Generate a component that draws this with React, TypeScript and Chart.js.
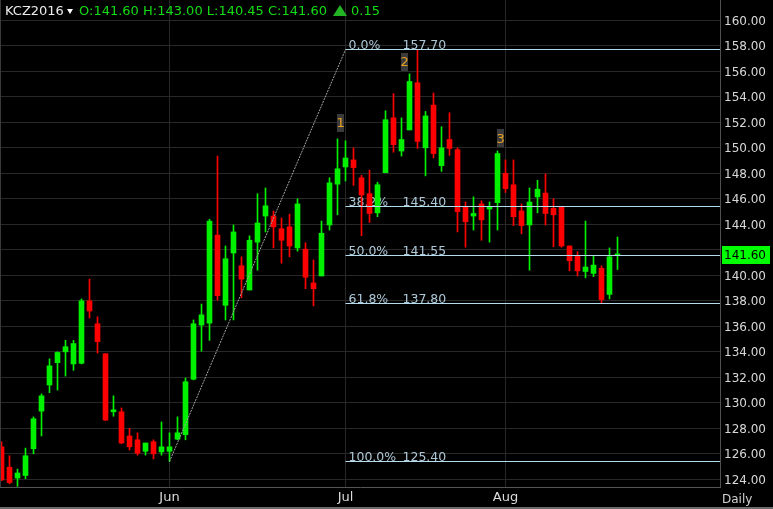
import { useEffect, useRef } from "react";
import { Chart, registerables } from "chart.js";

Chart.register(...registerables);

// trading days shown (mm/dd, 2016)
const dates = [
  "05/02", "05/03", "05/04", "05/05", "05/06", "05/09", "05/10", "05/11", "05/12", "05/13",
  "05/16", "05/17", "05/18", "05/19", "05/20", "05/23", "05/24", "05/25", "05/26", "05/27",
  "05/31",
  "06/01", "06/02", "06/03", "06/06", "06/07", "06/08", "06/09", "06/10", "06/13", "06/14",
  "06/15", "06/16", "06/17", "06/20", "06/21", "06/22", "06/23", "06/24", "06/27", "06/28",
  "06/29", "06/30",
  "07/01", "07/05", "07/06", "07/07", "07/08", "07/11", "07/12", "07/13", "07/14", "07/15",
  "07/18", "07/19", "07/20", "07/21", "07/22", "07/25", "07/26", "07/27", "07/28", "07/29",
  "08/01", "08/02", "08/03", "08/04", "08/05", "08/08", "08/09", "08/10", "08/11", "08/12",
  "08/15", "08/16", "08/17", "08/18", "08/19",
];

const opens = [
  126.55, 124.95, 124.1, 124.3, 126.4, 129.35, 131.4, 133.15, 134.0, 133.05,
  133.1, 138.0, 136.2, 133.85, 129.3, 129.3, 127.4, 127.1, 126.2, 126.95,
  126.15, 126.2, 127.15, 127.5, 131.85, 136.1, 136.25, 143.15, 137.65, 141.75,
  140.75, 138.85, 142.6, 144.65, 144.65, 143.65, 143.8, 142.15, 142.05, 139.4,
  139.95, 143.95, 147.15, 148.5, 149.05, 147.65, 146.4, 144.9, 148.05, 152.35,
  149.75, 151.4, 155.1, 150.0, 153.35, 148.6, 150.65, 149.85, 145.4, 144.65,
  145.6, 145.2, 145.7, 148.0, 147.1, 145.05, 143.95, 146.15, 146.45, 145.25,
  145.35, 142.3, 141.55, 140.3, 140.15, 140.55, 138.5, 141.6,
];
const highs = [
  126.95, 125.85, 124.8, 126.45, 128.9, 130.7, 133.45, 134.0, 134.9, 134.9,
  138.15, 139.7, 136.75, 133.85, 130.55, 129.6, 128.0, 127.65, 126.85, 127.1,
  128.5, 127.65, 128.9, 131.95, 136.5, 137.75, 144.4, 149.35, 142.3, 143.95,
  141.45, 143.1, 146.4, 146.85, 145.05, 144.5, 144.8, 146.0, 142.55, 141.2,
  144.25, 147.65, 150.7, 150.55, 150.0, 147.85, 148.25, 147.3, 152.9, 154.25,
  152.35, 155.8, 157.7, 152.85, 154.3, 151.65, 152.75, 150.0, 145.75, 146.15,
  145.85, 145.75, 149.75, 149.05, 149.05, 145.6, 146.85, 147.45, 147.95, 146.0,
  145.35, 142.3, 141.85, 144.25, 141.55, 140.75, 142.15, 143.0,
];
const lows = [
  123.9, 123.65, 123.45, 124.05, 126.0, 127.4, 130.8, 131.0, 132.1, 132.55,
  133.05, 136.65, 133.9, 128.6, 128.95, 126.8, 126.3, 125.9, 125.9, 125.6,
  125.9, 125.4, 127.1, 127.1, 131.8, 134.05, 134.9, 138.05, 136.5, 136.5,
  138.25, 138.85, 140.4, 143.4, 142.15, 140.95, 141.45, 141.9, 138.95, 137.6,
  139.95, 143.55, 144.75, 147.4, 147.05, 143.1, 144.15, 144.6, 148.05, 149.65,
  149.35, 151.4, 149.95, 147.8, 149.2, 148.15, 149.4, 143.4, 142.2, 143.55,
  142.75, 142.6, 143.55, 146.5, 143.9, 143.25, 140.4, 144.9, 143.95, 142.25,
  142.2, 140.35, 139.95, 139.8, 139.9, 137.85, 138.15, 140.45,
];
const closes = [
  123.95, 123.75, 124.5, 125.85, 128.75, 130.55, 132.9, 133.95, 134.4, 134.65,
  138.0, 137.2, 134.8, 128.65, 129.45, 126.85, 126.55, 126.05, 126.85, 126.0,
  126.55, 126.55, 127.65, 131.65, 136.2, 136.9, 144.25, 138.4, 141.3, 143.4,
  139.7, 142.75, 144.1, 145.45, 143.8, 142.75, 142.3, 145.6, 139.85, 138.95,
  143.3, 147.25, 148.35, 149.2, 148.45, 146.3, 144.85, 147.1, 152.2, 150.25,
  150.65, 155.2, 150.5, 152.5, 149.55, 150.0, 149.95, 145.0, 144.2, 144.85,
  144.35, 145.4, 149.55, 146.8, 144.6, 143.9, 145.75, 146.75, 144.85, 144.75,
  142.3, 141.15, 140.35, 140.65, 140.8, 138.1, 141.45, 141.6,
];

const monthNames = ["Jun", "Jul", "Aug"];
const monthKeys = ["06", "07", "08"];

// fibonacci retracement drawn from the Jun 1 low to 157.70
const fibLabels = ["0.0%", "38.2%", "50.0%", "61.8%", "100.0%"];
const fibPrices = [157.7, 145.4, 141.55, 137.8, 125.4];
const fibStart = "07/01";
const trendDates = ["06/01", "07/01"];
const trendPrices = [125.4, 157.7];

// wave counts
const waveTexts = ["1", "2", "3"];
const waveSlots = [42.4, 50.4, 62.4];
const wavePrices = [151.95, 156.75, 150.75];

const SYMBOL = "KCZ2016";
const X_MIN = -0.1875;
const X_MAX = 89.8125;
const Y_MIN = 123.4;
const Y_MAX = 161.59;

const GREEN = "#00f000";
const RED = "#ff0000";
const GRID = "#282828";
const FONT = "DejaVu Sans";

const last = closes.length - 1;
const lastClose = closes[last];
const change = lastClose - closes[last - 1];
const monthStarts = monthKeys.map((m) => dates.findIndex((d) => d.startsWith(m)));

const fibLayer = {
  id: "fibLayer",
  beforeDatasetsDraw(chart: any) {
    const { ctx, scales } = chart;
    const x0 = scales.x.getPixelForValue(dates.indexOf(fibStart));
    ctx.save();
    ctx.font = `12.5px "${FONT}"`;
    ctx.fillStyle = "#adc7d6";
    ctx.textBaseline = "alphabetic";
    fibPrices.forEach((p, i) => {
      const y = Math.floor(scales.y.getPixelForValue(p));
      ctx.fillText(fibLabels[i], x0 + 3, y - 0.5);
      ctx.fillText(p.toFixed(2), x0 + 57, y - 0.5);
    });
    ctx.restore();
  },
  afterDatasetsDraw(chart: any) {
    const { ctx, scales, chartArea } = chart;
    const xs = scales.x;
    const ys = scales.y;
    ctx.save();
    // trend line
    ctx.strokeStyle = "#a4a4a4";
    ctx.lineWidth = 1;
    ctx.setLineDash([2, 1]);
    ctx.beginPath();
    ctx.moveTo(xs.getPixelForValue(dates.indexOf(trendDates[0])), ys.getPixelForValue(trendPrices[0]));
    ctx.lineTo(xs.getPixelForValue(dates.indexOf(trendDates[1])), ys.getPixelForValue(trendPrices[1]));
    ctx.stroke();
    ctx.setLineDash([]);
    // retracement levels
    const x0 = xs.getPixelForValue(dates.indexOf(fibStart));
    ctx.strokeStyle = "#b4dcec";
    fibPrices.forEach((p) => {
      const y = Math.floor(ys.getPixelForValue(p)) + 0.5;
      ctx.beginPath();
      ctx.moveTo(x0, y);
      ctx.lineTo(chartArea.right, y);
      ctx.stroke();
    });
    // wave labels
    ctx.font = `13px "${FONT}"`;
    ctx.textAlign = "center";
    ctx.textBaseline = "middle";
    waveTexts.forEach((t, i) => {
      const x = xs.getPixelForValue(waveSlots[i]);
      const y = ys.getPixelForValue(wavePrices[i]);
      ctx.fillStyle = "#3a3a3a";
      ctx.fillRect(Math.round(x - 3.5), Math.round(y - 9), 7, 18);
      ctx.fillStyle = "#e8a225";
      ctx.fillText(t, x, y + 1);
    });
    ctx.restore();
  },
  afterDraw(chart: any) {
    const { ctx, scales, chartArea, width } = chart;
    ctx.save();
    // last price tag
    const y = scales.y.getPixelForValue(lastClose);
    ctx.fillStyle = "#00ff00";
    ctx.fillRect(chartArea.right + 2, Math.round(y - 9), 48, 18);
    ctx.fillStyle = "#000";
    ctx.font = `12px "${FONT}"`;
    ctx.textBaseline = "middle";
    ctx.fillText(lastClose.toFixed(2), chartArea.right + 4, y + 1);
    // interval
    ctx.fillStyle = "#d0d0d0";
    ctx.textBaseline = "alphabetic";
    ctx.fillText("Daily", chartArea.right + 2, 503);
    // frame
    ctx.strokeStyle = "#3a3a3a";
    ctx.beginPath();
    ctx.moveTo(0.5, 0);
    ctx.lineTo(0.5, chartArea.bottom);
    ctx.stroke();
    ctx.fillStyle = "#6a6a6a";
    ctx.fillRect(0, 507, width, 2);
    ctx.restore();
  },
};

function CandleChart() {
  const canvasRef = useRef<HTMLCanvasElement>(null);
  const chartRef = useRef<Chart | null>(null);

  useEffect(() => {
    if (!canvasRef.current) return;
    if (chartRef.current) chartRef.current.destroy();

    const colors = closes.map((c, i) => (c >= opens[i] ? GREEN : RED));

    chartRef.current = new Chart(canvasRef.current, {
      type: "bar",
      data: {
        datasets: [
          {
            label: "body",
            data: dates.map((_, i) => ({ x: i, y: [opens[i], closes[i]] })) as any,
            backgroundColor: colors,
            barThickness: 5,
            minBarLength: 1,
            grouped: false,
            borderWidth: 0,
          },
          {
            label: "wick",
            data: dates.map((_, i) => ({ x: i, y: [lows[i], highs[i]] })) as any,
            backgroundColor: colors,
            barThickness: 1,
            minBarLength: 1,
            grouped: false,
            borderWidth: 0,
          },
        ],
      },
      options: {
        responsive: false,
        devicePixelRatio: 1,
        animation: false,
        events: [],
        layout: { padding: 0 },
        plugins: {
          legend: { display: false },
          tooltip: { enabled: false },
        },
        scales: {
          x: {
            type: "linear",
            min: X_MIN,
            max: X_MAX,
            offset: false,
            grid: { color: GRID, offset: false, drawTicks: false },
            border: { color: "#555555" },
            afterBuildTicks: (s: any) => {
              s.ticks = monthStarts.map((v) => ({ value: v }));
            },
            ticks: {
              autoSkip: false,
              maxRotation: 0,
              padding: 3,
              color: "#dcdcdc",
              font: { family: FONT, size: 13 },
              callback: (v: any) => monthNames[monthStarts.indexOf(Number(v))] ?? "",
            },
            afterFit: (s: any) => {
              s.height = 22;
              s.paddingLeft = 0;
              s.paddingRight = 0;
            },
          },
          y: {
            position: "right",
            min: Y_MIN,
            max: Y_MAX,
            grid: { color: GRID, drawTicks: false },
            border: { color: "#505050" },
            ticks: {
              stepSize: 2,
              includeBounds: false,
              padding: 4,
              labelOffset: 1.5,
              color: "#d8d8d8",
              font: { family: FONT, size: 12 },
              callback: (v: any) =>
                Math.abs(Number(v) - lastClose) < 1 ? "" : Number(v).toFixed(2),
            },
            afterFit: (s: any) => {
              s.width = 53;
              s.paddingTop = 0;
              s.paddingBottom = 0;
            },
          },
        },
      },
      plugins: [fibLayer],
    });

    return () => {
      if (chartRef.current) {
        chartRef.current.destroy();
        chartRef.current = null;
      }
    };
  }, []);

  return <canvas ref={canvasRef} width={773} height={509} style={{ display: "block" }} />;
}

export default function App() {
  const text = { position: "absolute" as const, top: 3, lineHeight: "15px", fontSize: 13, fontFamily: FONT, whiteSpace: "pre" as const };
  const ohlc = `O:${opens[last].toFixed(2)} H:${highs[last].toFixed(2)} L:${lows[last].toFixed(2)} C:${lastClose.toFixed(2)}`;

  return (
    <div style={{ position: "absolute", left: 0, top: 0, width: 773, height: 509, background: "#000", overflow: "hidden" }}>
      <CandleChart />
      <span style={{ ...text, left: 5, color: "#ececec" }}>{SYMBOL}</span>
      <span
        style={{
          position: "absolute", left: 67, top: 9, width: 0, height: 0,
          borderLeft: "3px solid transparent", borderRight: "3px solid transparent", borderTop: "5px solid #ffffff",
        }}
      />
      <span style={{ ...text, left: 79, color: "#14dc14" }}>{ohlc}</span>
      <span
        style={{
          position: "absolute", left: 333, top: 5, width: 0, height: 0,
          borderLeft: "7px solid transparent", borderRight: "7px solid transparent", borderBottom: "11px solid #22b422",
        }}
      />
      <span style={{ ...text, left: 351, color: "#14dc14" }}>{change.toFixed(2)}</span>
    </div>
  );
}
